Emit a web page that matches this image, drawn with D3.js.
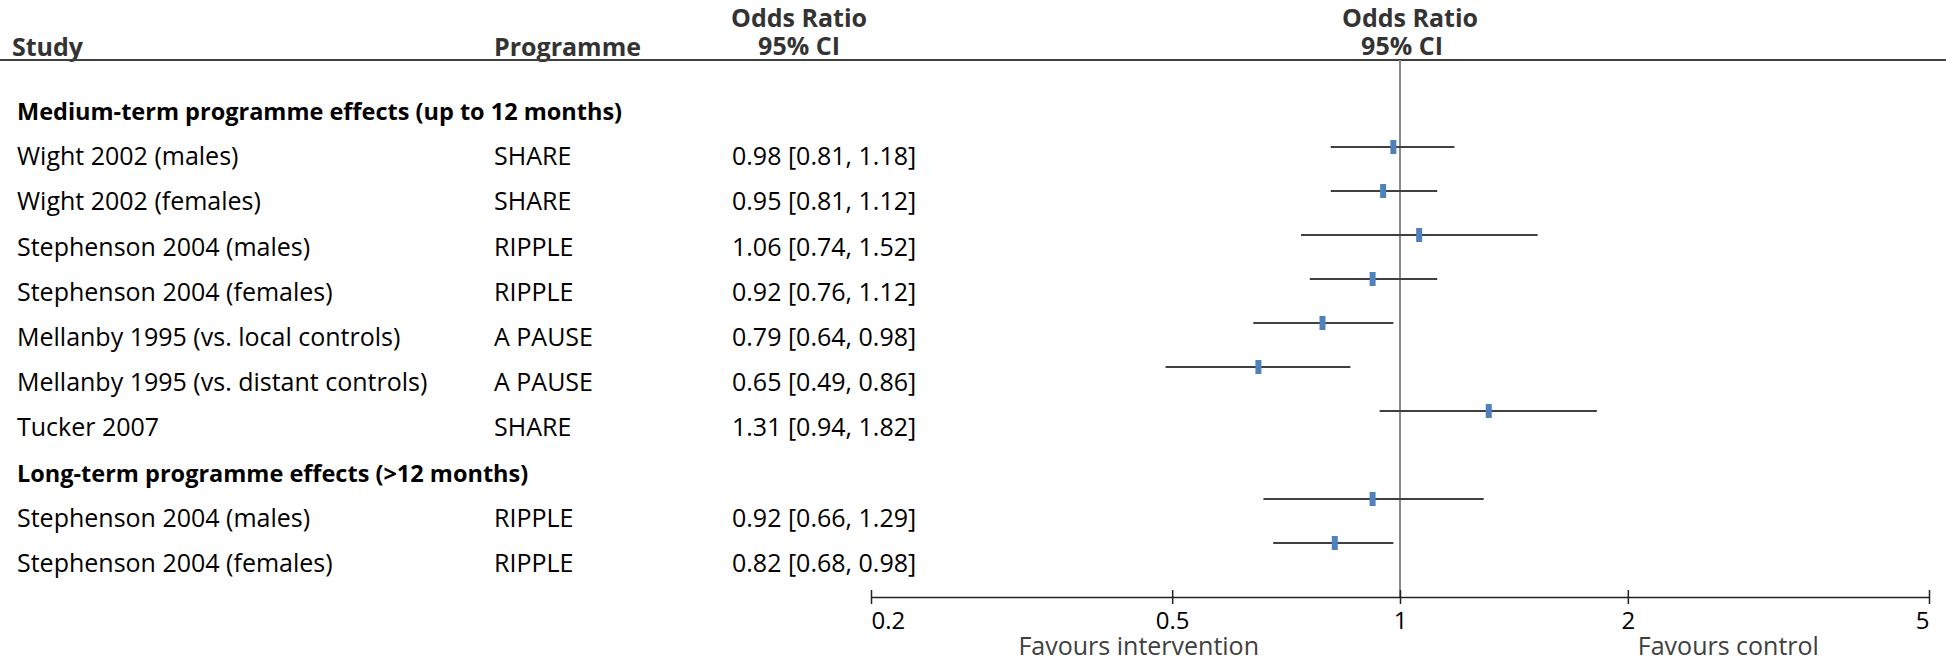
<!DOCTYPE html>
<html>
<head>
<meta charset="utf-8">
<script src="https://cdn.jsdelivr.net/npm/d3@7"></script>
<style>
  body { margin: 0; background: #fff; }
  text { font-family: "Open Sans", Lato, sans-serif; font-size: 25px; }
</style>
</head>
<body>
<div id="viz"></div>
<script>
var groups = ["Medium-term programme effects (up to 12 months)",
              "Long-term programme effects (>12 months)"];

var studies = ["Wight 2002 (males)", "Wight 2002 (females)", "Stephenson 2004 (males)",
               "Stephenson 2004 (females)", "Mellanby 1995 (vs. local controls)",
               "Mellanby 1995 (vs. distant controls)", "Tucker 2007",
               "Stephenson 2004 (males)", "Stephenson 2004 (females)"];
var programmes = ["SHARE", "SHARE", "RIPPLE", "RIPPLE", "A PAUSE", "A PAUSE", "SHARE", "RIPPLE", "RIPPLE"];
var groupOf = [0, 0, 0, 0, 0, 0, 0, 1, 1];
var oddsRatio = [0.98, 0.95, 1.06, 0.92, 0.79, 0.65, 1.31, 0.92, 0.82];
var ciLow     = [0.81, 0.81, 0.74, 0.76, 0.64, 0.49, 0.94, 0.66, 0.68];
var ciHigh    = [1.18, 1.12, 1.52, 1.12, 0.98, 0.86, 1.82, 1.29, 0.98];

var tickValues = [0.2, 0.5, 1, 2, 5];
var favourLabels = ["Favours intervention", "Favours control"];

var width = 1946, height = 662;
var fmt = d3.format(".2f");

// work out which line each heading and study sits on
var headRow = [], studyRow = [], line = 0;
groupOf.forEach(function(g, i) {
    if (headRow[g] === undefined) { headRow[g] = line; line++; }
    studyRow[i] = line; line++;
});

var yText = d3.scaleLinear().domain([0, line - 1]).range([120, 572]);
var yMark = d3.scaleLinear().domain([1, line - 1]).range([147, 543]);
var x = d3.scaleLog().domain([0.2, 5]).range([871, 1929]);
var axisY = 597, headLineY = 60;

var svg = d3.select("#viz").append("svg")
    .attr("width", width)
    .attr("height", height);

// column headings
var head = svg.append("g")
    .style("font-weight", "bold")
    .style("font-size", "23.5px")
    .style("fill", "#333");
head.append("text").attr("x", 12).attr("y", 56).text("Study");
head.append("text").attr("x", 494).attr("y", 56).text("Programme");
[[799, 799], [1410, 1402]].forEach(function(c) {
    head.append("text").attr("x", c[0]).attr("y", 27).attr("text-anchor", "middle").text("Odds Ratio");
    head.append("text").attr("x", c[1]).attr("y", 55).attr("text-anchor", "middle").text("95% CI");
});

svg.append("line")
    .attr("x1", 0).attr("x2", width)
    .attr("y1", headLineY).attr("y2", headLineY)
    .style("stroke", "#404040")
    .style("stroke-width", 2);

// line of no effect
svg.append("line")
    .attr("x1", x(1)).attr("x2", x(1))
    .attr("y1", headLineY).attr("y2", axisY)
    .style("stroke", "#888")
    .style("stroke-width", 2);

// group headings
svg.selectAll("text.group")
    .data(groups)
    .enter().append("text")
    .attr("class", "group")
    .attr("x", 17)
    .attr("y", function(d, g) { return yText(headRow[g]); })
    .style("font-weight", "bold")
    .style("font-size", "23.5px")
    .style("fill", "#000")
    .text(function(d) { return d; });

var rows = svg.selectAll("g.row")
    .data(studies)
    .enter().append("g")
    .attr("class", "row");

rows.append("text")
    .attr("x", 17)
    .attr("y", function(d, i) { return yText(studyRow[i]); })
    .text(function(d) { return d; });

rows.append("text")
    .attr("x", 494)
    .attr("y", function(d, i) { return yText(studyRow[i]); })
    .text(function(d, i) { return programmes[i]; });

rows.append("text")
    .attr("x", 732)
    .attr("y", function(d, i) { return yText(studyRow[i]); })
    .text(function(d, i) {
        return fmt(oddsRatio[i]) + " [" + fmt(ciLow[i]) + ", " + fmt(ciHigh[i]) + "]";
    });

rows.append("line")
    .attr("x1", function(d, i) { return x(ciLow[i]); })
    .attr("x2", function(d, i) { return x(ciHigh[i]); })
    .attr("y1", function(d, i) { return yMark(studyRow[i]); })
    .attr("y2", function(d, i) { return yMark(studyRow[i]); })
    .style("stroke", "#404040")
    .style("stroke-width", 2);

rows.append("rect")
    .attr("x", function(d, i) { return x(oddsRatio[i]) - 3; })
    .attr("y", function(d, i) { return yMark(studyRow[i]) - 7; })
    .attr("width", 6)
    .attr("height", 14)
    .style("fill", "#4F81BD");

// x axis
var axis = d3.axisBottom(x)
    .tickValues(tickValues)
    .tickFormat(function(d) { return String(d); })
    .tickSizeInner(7)
    .tickSizeOuter(0);

var ax = svg.append("g")
    .attr("transform", "translate(0," + axisY + ")")
    .call(axis);
ax.select(".domain").style("stroke", "#222").style("stroke-width", 1.5);
ax.selectAll(".tick line").attr("y1", -7).style("stroke", "#222").style("stroke-width", 1.5);
ax.selectAll(".tick text")
    .attr("y", 15)
    .attr("text-anchor", function(d, i, n) {
        return i === 0 ? "start" : (i === n.length - 1 ? "end" : "middle");
    })
    .style("font-family", "'Open Sans', Lato, sans-serif")
    .style("font-size", "24px")
    .style("fill", "#000");

svg.selectAll("text.favour")
    .data(favourLabels)
    .enter().append("text")
    .attr("class", "favour")
    .attr("x", function(d, i) { return i === 0 ? x(1) - 141 : x(2) + 10; })
    .attr("y", 655)
    .attr("text-anchor", function(d, i) { return i === 0 ? "end" : "start"; })
    .style("fill", "#404040")
    .text(function(d) { return d; });
</script>
</body>
</html>
